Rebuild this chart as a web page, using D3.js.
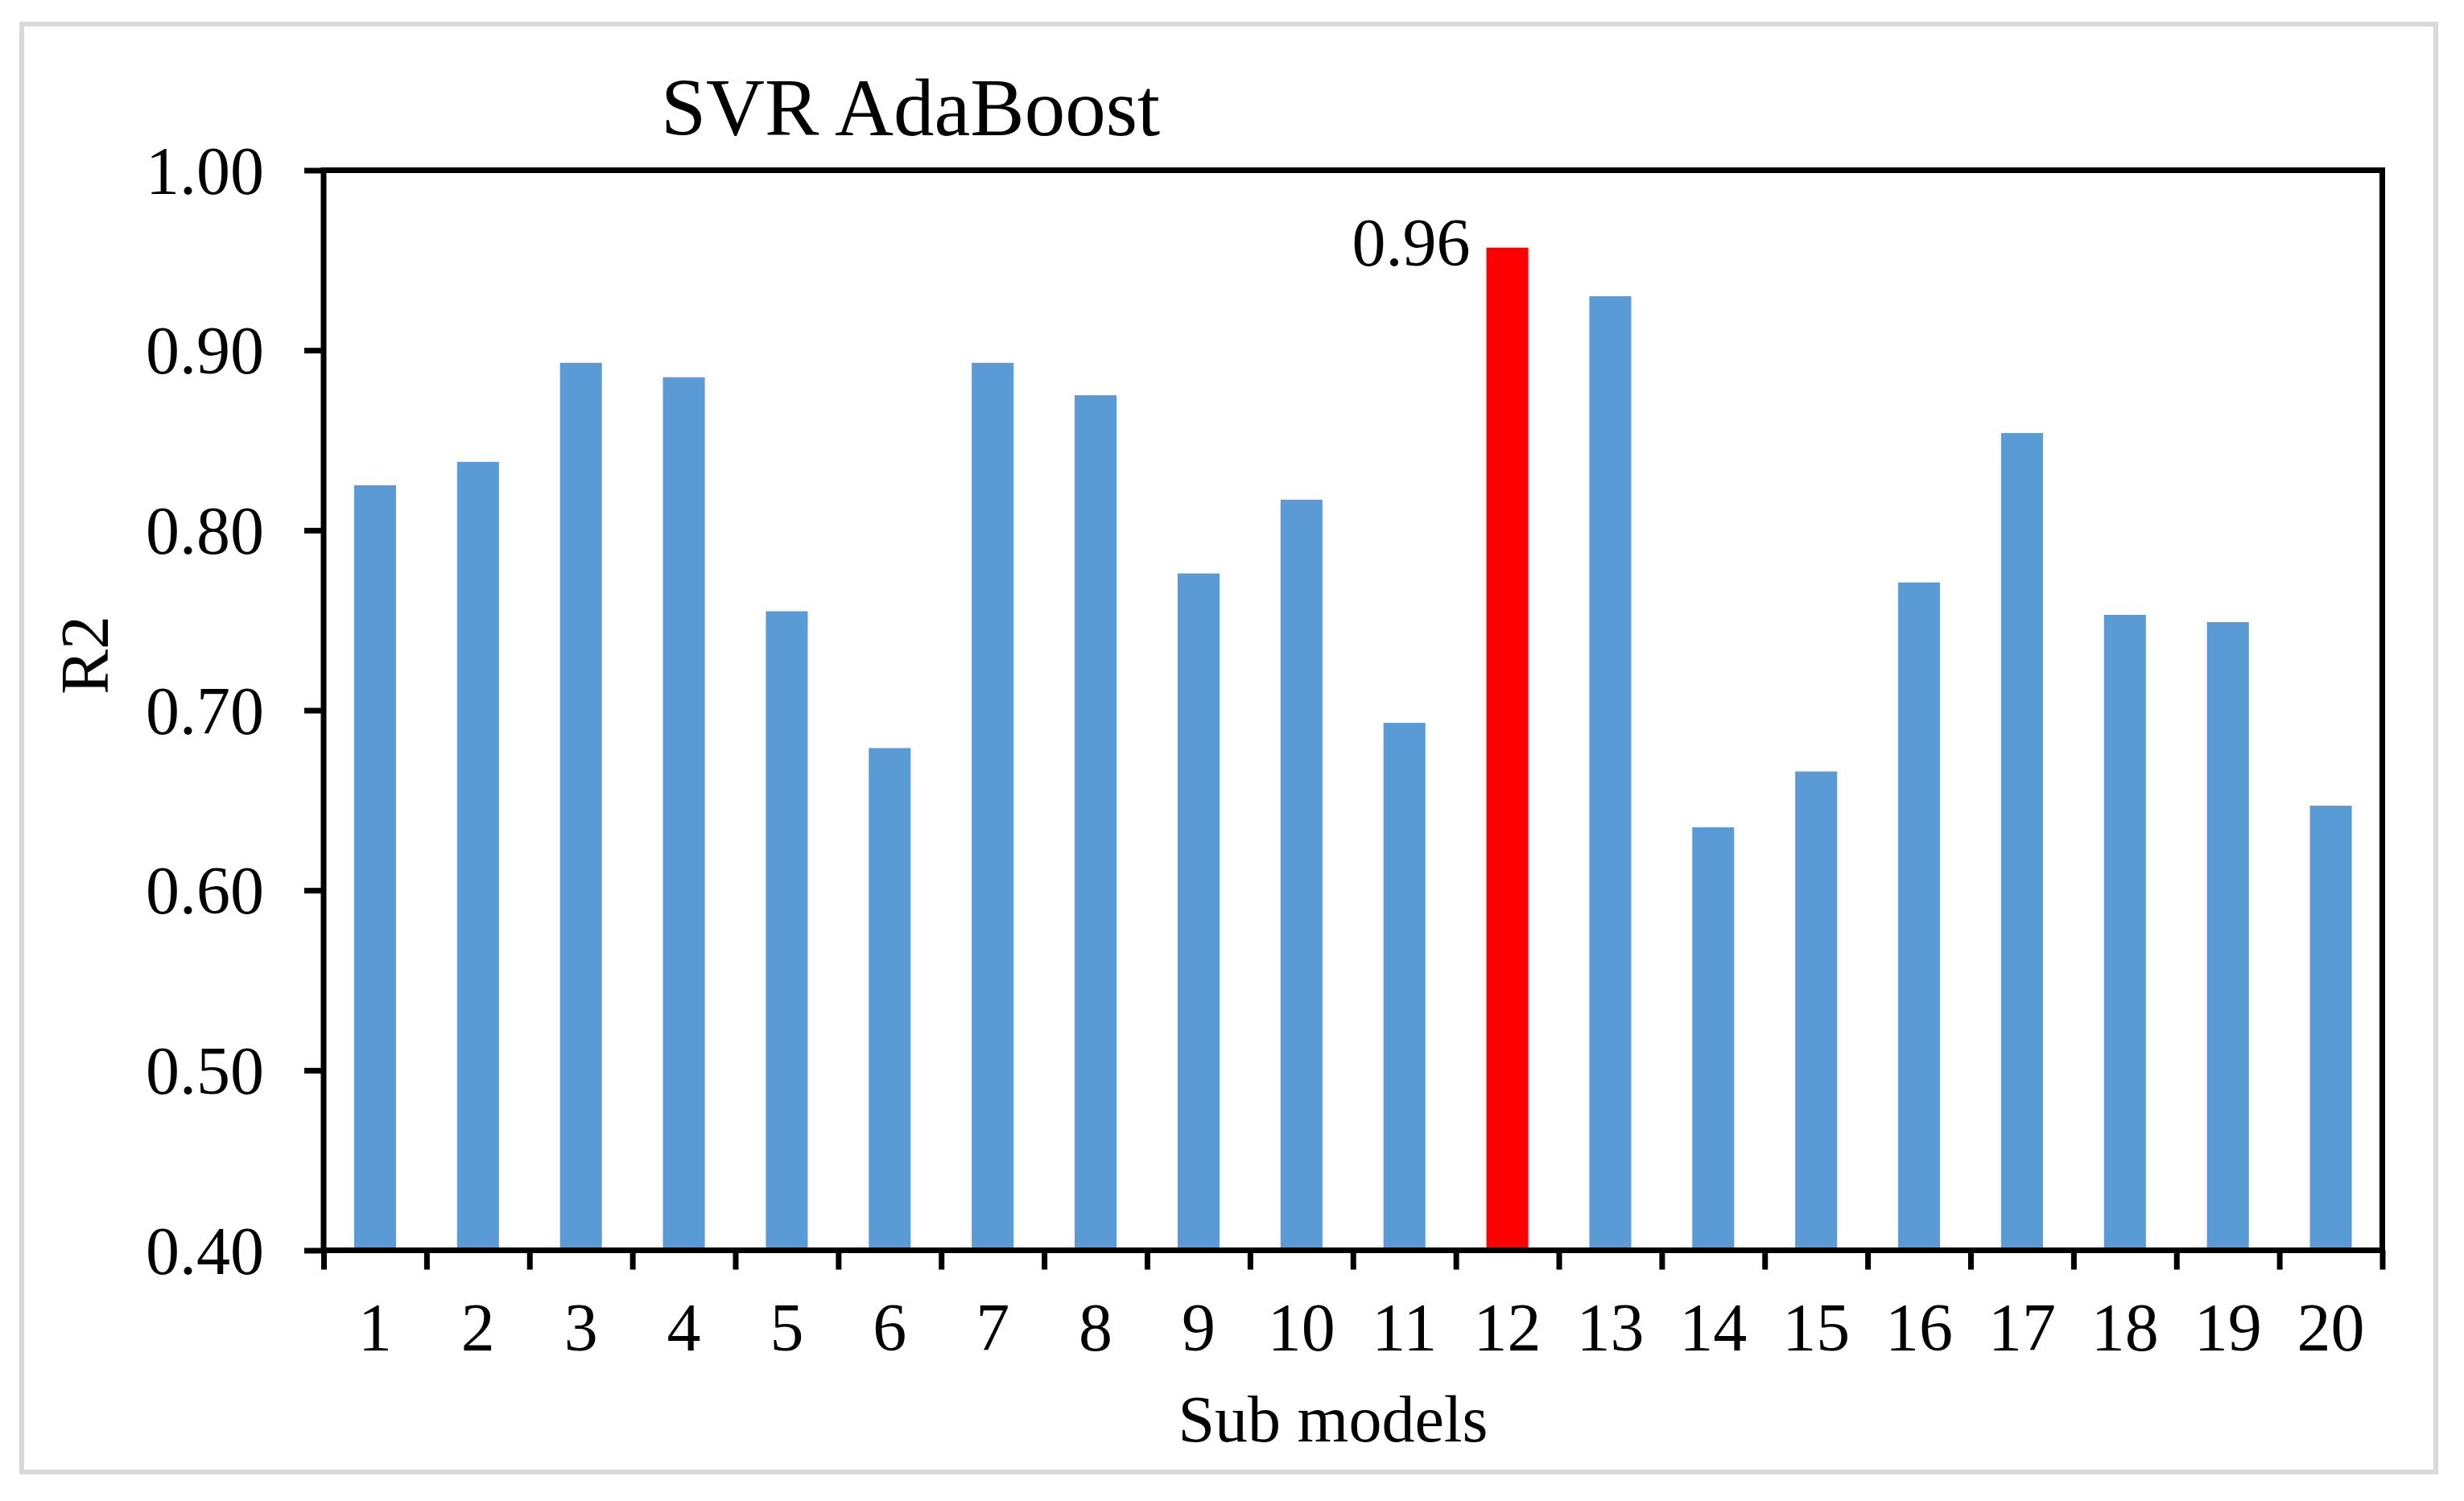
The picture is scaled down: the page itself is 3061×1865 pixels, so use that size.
<!DOCTYPE html>
<meta charset="utf-8">
<style>

body {
  margin: 0;
  background: #fff;
}

text {
  font-family: "Liberation Serif", "Times New Roman", serif;
  fill: #000;
}

</style>
<body>
<script src="https://d3js.org/d3.v7.min.js"></script>
<script>

var models = d3.range(1, 21).map(String);

var r2 = [0.825, 0.838, 0.893, 0.885, 0.755, 0.679, 0.893, 0.875, 0.776, 0.817,
          0.693, 0.957, 0.930, 0.635, 0.666, 0.771, 0.854, 0.753, 0.749, 0.647];

var yTicks = [0.40, 0.50, 0.60, 0.70, 0.80, 0.90, 1.00];

var best = "12",
    bestLabel = "0.96";

var width = 3061,
    height = 1865,
    margin = {top: 211.5, right: 101.5, bottom: 311.5, left: 402};

var svg = d3.select("body").append("svg")
    .attr("width", width)
    .attr("height", height);

// outer grey frame
svg.append("rect")
    .attr("x", 27)
    .attr("y", 30)
    .attr("width", width - 27 - 35)
    .attr("height", 1829 - 30)
    .attr("fill", "#fff")
    .attr("stroke", "#d9d9d9")
    .attr("stroke-width", 6);

var x = d3.scaleBand()
    .domain(models)
    .range([margin.left, width - margin.right])
    .paddingInner(0.593)
    .paddingOuter(0.2965);

var xEdge = d3.scaleLinear()
    .domain([0, models.length])
    .range([margin.left, width - margin.right]);

var y = d3.scaleLinear()
    .domain([0.4, 1.0])
    .range([height - margin.bottom, margin.top]);

svg.append("g")
  .selectAll("rect")
  .data(models)
  .join("rect")
    .attr("x", function(d) { return x(d); })
    .attr("width", x.bandwidth())
    .attr("y", function(d, i) { return y(r2[i]); })
    .attr("height", function(d, i) { return y(0.4) - y(r2[i]); })
    .attr("fill", function(d) { return d === best ? "#ff0000" : "#5b9bd5"; });

// plot box
svg.append("rect")
    .attr("x", margin.left)
    .attr("y", margin.top)
    .attr("width", width - margin.right - margin.left)
    .attr("height", height - margin.bottom - margin.top)
    .attr("fill", "none")
    .attr("stroke", "#000")
    .attr("stroke-width", 7);

var yAxis = svg.append("g")
    .attr("transform", "translate(" + margin.left + ",0)")
    .call(d3.axisLeft(y)
        .tickValues(yTicks)
        .tickFormat(d3.format(".2f"))
        .tickSize(24)
        .tickPadding(50));

yAxis.select(".domain").remove();
yAxis.selectAll("line").attr("stroke", "#000").attr("stroke-width", 7);
yAxis.selectAll("text")
    .attr("font-size", 84)
    .attr("dy", "0.34em");

var xTicks = svg.append("g")
    .attr("transform", "translate(0," + (height - margin.bottom) + ")")
    .call(d3.axisBottom(xEdge)
        .tickValues(d3.range(models.length + 1))
        .tickFormat("")
        .tickSize(24));

xTicks.select(".domain").remove();
xTicks.selectAll("line").attr("stroke", "#000").attr("stroke-width", 7);

var xLabels = svg.append("g")
    .attr("transform", "translate(0," + (height - margin.bottom) + ")")
    .call(d3.axisBottom(x).tickSize(0).tickPadding(65));

xLabels.select(".domain").remove();
xLabels.selectAll("text").attr("font-size", 84);

svg.selectAll(".tick text").attr("font-family", "Liberation Serif").attr("fill", "#000");

// label on best bar
var bi = models.indexOf(best);
svg.append("text")
    .attr("x", x(best) - 20)
    .attr("y", y(r2[bi]))
    .attr("dy", "0.27em")
    .attr("text-anchor", "end")
    .attr("font-size", 84)
    .text(bestLabel);

svg.append("text")
    .attr("x", 1131)
    .attr("y", 168)
    .attr("text-anchor", "middle")
    .attr("font-size", 101)
    .text("SVR AdaBoost");

svg.append("text")
    .attr("transform", "translate(134,814) rotate(-90)")
    .attr("text-anchor", "middle")
    .attr("font-size", 84)
    .text("R2");

svg.append("text")
    .attr("x", 1656)
    .attr("y", 1791)
    .attr("text-anchor", "middle")
    .attr("font-size", 82)
    .text("Sub models");

</script>
